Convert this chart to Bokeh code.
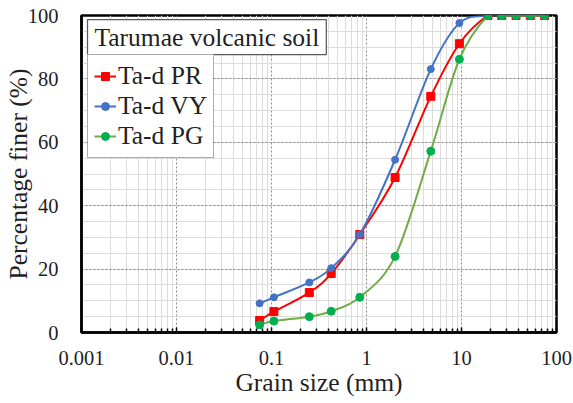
import numpy as np
from bokeh.plotting import figure
from bokeh.models import (FixedTicker, SingleIntervalTicker, CustomJSTickFormatter,
                          Legend, LegendItem, Label, Range1d)
from bokeh.embed import file_html
from bokeh.resources import INLINE

# Sieve sizes (mm) and percentage passing for the three Ta-d samples
grain_mm = [0.075, 0.106, 0.25, 0.425, 0.85, 2.0, 4.75, 9.5, 19.0, 26.5, 37.5, 53.0, 75.0]
pct_pr = [3.8, 6.6, 12.6, 18.6, 30.9, 48.9, 74.5, 91.1, 100, 100, 100, 100, 100]
pct_vy = [9.2, 11.1, 15.8, 20.3, 30.9, 54.5, 83.1, 97.6, 100, 100, 100, 100, 100]
pct_pg = [2.4, 3.6, 5.0, 6.7, 11.1, 24.0, 57.2, 86.2, 100, 100, 100, 100, 100]

x_ticks = [0.001, 0.01, 0.1, 1, 10, 100]
x_tick_labels = ["0.001", "0.01", "0.1", "1", "10", "100"]

FONT = "Liberation Serif"
TXT = "#1f1f1f"
BIG = "25.5px"

# approximate pixels per decade / per percent, so smoothing follows screen shape
KX, KY = 95.0, 3.17


def smooth_segments(x, y):
    """Catmull-Rom style cubic Bezier segments in log-x screen space."""
    u = np.log10(np.asarray(x, float)) * KX
    v = np.asarray(y, float) * KY
    n = len(u)
    up = np.concatenate([[u[0]], u, [u[-1]]])
    vp = np.concatenate([[v[0]], v, [v[-1]]])
    c1u = u[:-1] + (up[2:n + 1] - up[0:n - 1]) / 6.0
    c1v = v[:-1] + (vp[2:n + 1] - vp[0:n - 1]) / 6.0
    c2u = u[1:] - (up[3:n + 2] - up[1:n]) / 6.0
    c2v = v[1:] - (vp[3:n + 2] - vp[1:n]) / 6.0
    return dict(
        x0=10 ** (u[:-1] / KX), y0=v[:-1] / KY,
        x1=10 ** (u[1:] / KX), y1=v[1:] / KY,
        cx0=10 ** (c1u / KX), cy0=c1v / KY,
        cx1=10 ** (c2u / KX), cy1=c2v / KY,
    )


p = figure(width=573, height=403, x_axis_type="log",
           x_range=Range1d(0.001, 100), y_range=Range1d(0, 100),
           output_backend="svg", toolbar_location=None,
           min_border_left=81, min_border_right=17,
           min_border_top=15, min_border_bottom=71,
           background_fill_color="white", border_fill_color="white")

p.outline_line_color = "black"
p.outline_line_width = 2.5
p.outline_line_alpha = 1.0

# axes
minor = [m * 10.0 ** e for e in range(-3, 2) for m in range(2, 10)]
p.xaxis.ticker = FixedTicker(ticks=x_ticks, minor_ticks=minor)
p.xaxis.formatter = CustomJSTickFormatter(
    args=dict(vals=x_ticks, labs=x_tick_labels),
    code="""
    for (let i = 0; i < vals.length; i++) {
        if (Math.abs(Math.log10(tick) - Math.log10(vals[i])) < 1e-6) return labs[i];
    }
    return '';
    """)
p.yaxis.ticker = SingleIntervalTicker(interval=20, num_minor_ticks=4)

for ax in (p.xaxis[0], p.yaxis[0]):
    ax.axis_line_color = "black"
    ax.axis_line_width = 2.5
    ax.major_label_text_font = FONT
    ax.major_label_text_font_size = "20.5px"
    ax.major_label_text_color = TXT
    ax.axis_label_text_font = FONT
    ax.axis_label_text_font_size = BIG
    ax.axis_label_text_font_style = "normal"
    ax.axis_label_text_color = TXT

p.xaxis.major_tick_in = 5
p.xaxis.major_tick_out = 0
p.xaxis.minor_tick_in = 4
p.xaxis.minor_tick_out = 0
p.xaxis.major_tick_line_color = "black"
p.xaxis.minor_tick_line_color = "black"
p.xaxis.major_tick_line_width = 1.5
p.xaxis.minor_tick_line_width = 1.5
p.xaxis.major_label_standoff = 18
p.xaxis.axis_label = "Grain size (mm)"
p.xaxis.axis_label_standoff = 0

p.yaxis.major_tick_in = 0
p.yaxis.major_tick_out = 0
p.yaxis.minor_tick_in = 0
p.yaxis.minor_tick_out = 0
p.yaxis.major_label_standoff = 23
p.yaxis.axis_label = "Percentage finer (%)"
p.yaxis.axis_label_standoff = -8

# grid
for g in (p.xgrid[0], p.ygrid[0]):
    g.grid_line_color = "#8c8c8c"
    g.grid_line_dash = "2 2"
    g.grid_line_width = 1
    g.minor_grid_line_color = "#dcdcdc"
    g.minor_grid_line_width = 1

series = [
    ("Ta-d PR", pct_pr, "#ff0000", "#ff0000", "square", 8),
    ("Ta-d VY", pct_vy, "#4472c4", "#4472c4", "circle", 7),
    ("Ta-d PG", pct_pg, "#70ad47", "#00b050", "circle", 8),
]

items = []
for name, vals, lcol, mcol, marker, size in series:
    seg = smooth_segments(grain_mm, vals)
    r_line = p.bezier(line_color=lcol, line_width=2, **seg)
    r_pts = p.scatter(grain_mm, vals, marker=marker, size=size,
                      fill_color=mcol, line_color=mcol)
    items.append(LegendItem(label=name, renderers=[r_line, r_pts]))

legend = Legend(items=items, location=(6, 174),
                label_text_font=FONT, label_text_font_size=BIG,
                label_text_color=TXT,
                glyph_width=22, glyph_height=20, label_standoff=2,
                label_height=28, spacing=0, padding=6, margin=0,
                border_line_color="#595959", border_line_width=1.25,
                background_fill_color="white", background_fill_alpha=1.0)
p.add_layout(legend, "center")

title_box = Label(x=10 ** (-3 + 6 / KX), y=100 - 4 / KY, anchor="top_left",
                  text="Tarumae volcanic soil", text_font=FONT,
                  text_font_size=BIG, text_color=TXT,
                  padding=(7, 3),
                  border_line_color="#595959", border_line_width=1.25,
                  background_fill_color="white", background_fill_alpha=1.0)
p.add_layout(title_box)

open("out.html", "w").write(file_html(p, INLINE))
